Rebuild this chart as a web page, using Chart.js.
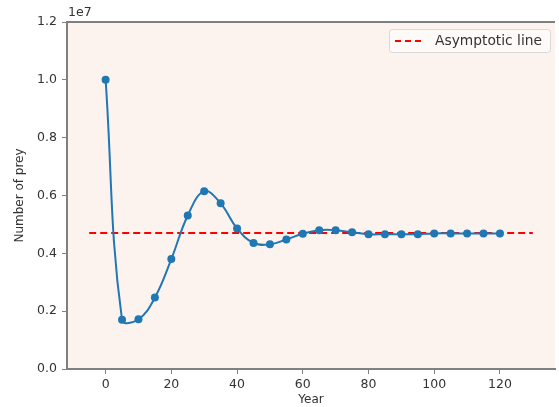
<!DOCTYPE html>
<html>
<head>
<meta charset="utf-8">
<script src="https://cdn.jsdelivr.net/npm/chart.js@4"></script>
<style>
  html, body { margin: 0; padding: 0; background: #fff; }
  #wrap { width: 559px; height: 407px; }
</style>
</head>
<body>
<div id="wrap"><canvas id="c" width="559" height="407"></canvas></div>
<script>
// data
const years = [0, 5, 10, 15, 20, 25, 30, 35, 40, 45, 50, 55, 60, 65, 70, 75, 80, 85, 90, 95, 100, 105, 110, 115, 120];
const prey = [10.0e6, 1.70e6, 1.72e6, 2.47e6, 3.80e6, 5.31e6, 6.15e6, 5.73e6, 4.86e6, 4.36e6, 4.31e6, 4.48e6, 4.68e6, 4.80e6, 4.80e6, 4.73e6, 4.66e6, 4.66e6, 4.66e6, 4.66e6, 4.69e6, 4.69e6, 4.69e6, 4.69e6, 4.69e6];
const asymX = [-5, 130];
const asymY = [4.7e6, 4.7e6];
const xTicks = [0, 20, 40, 60, 80, 100, 120];
const yTicks = [0, 2e6, 4e6, 6e6, 8e6, 10e6, 12e6];

const FONT = 'DejaVu Sans';
const TXT = '#333';
const SPINE = '#808080';

// background of the axes + top spine + offset label + legend
const decor = {
  id: 'decor',
  beforeDraw(chart) {
    const { ctx, chartArea: a } = chart;
    ctx.save();
    ctx.fillStyle = '#fdf3ee';
    ctx.fillRect(a.left, a.top, a.right - a.left, a.bottom - a.top);
    ctx.restore();
  },
  afterDraw(chart) {
    const { ctx, chartArea: a } = chart;
    ctx.save();
    // top spine
    ctx.strokeStyle = SPINE; ctx.lineWidth = 2;
    ctx.beginPath(); ctx.moveTo(a.left - 1, a.top); ctx.lineTo(a.right, a.top); ctx.stroke();
    // offset text
    ctx.fillStyle = TXT; ctx.font = `12.5px "${FONT}"`;
    ctx.textBaseline = 'bottom'; ctx.textAlign = 'left';
    ctx.fillText('1e7', a.left + 1, a.top - 3);
    // legend
    const w = 161, h = 23;
    const lx = a.right - 5 - w, ly = a.top + 7;
    ctx.fillStyle = 'rgba(255,255,255,0.6)';
    ctx.strokeStyle = '#d9d9d9'; ctx.lineWidth = 1;
    ctx.beginPath();
    ctx.roundRect(lx + 0.5, ly + 0.5, w, h, 3);
    ctx.fill(); ctx.stroke();
    ctx.strokeStyle = 'red'; ctx.lineWidth = 2; ctx.setLineDash([6, 4]);
    ctx.beginPath(); ctx.moveTo(lx + 6, ly + 12); ctx.lineTo(lx + 36, ly + 12); ctx.stroke();
    ctx.setLineDash([]);
    ctx.fillStyle = TXT; ctx.font = `13.8px "${FONT}"`;
    ctx.textBaseline = 'middle';
    ctx.fillText('Asymptotic line', lx + 46, ly + 12);
    ctx.restore();
  }
};

new Chart(document.getElementById('c'), {
  type: 'line',
  data: {
    datasets: [
      {
        label: 'Prey',
        data: years.map((x, i) => ({ x, y: prey[i] })),
        borderColor: '#1f77b4',
        backgroundColor: '#1f77b4',
        borderWidth: 2,
        pointRadius: 4,
        pointBorderWidth: 0,
        tension: 0.4,
        order: 0
      },
      {
        label: 'Asymptotic line',
        data: asymX.map((x, i) => ({ x, y: asymY[i] })),
        borderColor: 'red',
        borderWidth: 2,
        borderDash: [7, 4],
        pointRadius: 0,
        order: 1
      }
    ]
  },
  options: {
    responsive: false,
    animation: false,
    layout: { padding: { left: 0, top: 22, right: 0, bottom: 0 } },
    plugins: { legend: { display: false }, tooltip: { enabled: false } },
    scales: {
      x: {
        type: 'linear',
        min: -11.75,
        max: 136.75,
        afterBuildTicks: s => { s.ticks = xTicks.map(v => ({ value: v })); },
        afterFit: s => { s.height = 38; },
        grid: { drawOnChartArea: false, tickLength: 5, color: SPINE, tickWidth: 1 },
        border: { display: true, color: SPINE, width: 2 },
        ticks: { color: TXT, font: { family: FONT, size: 12.5 }, padding: 3, maxRotation: 0 },
        title: { display: true, text: 'Year', color: TXT, font: { family: FONT, size: 12 }, padding: { top: 0, bottom: 0 } }
      },
      y: {
        min: 0,
        max: 12e6,
        afterBuildTicks: s => { s.ticks = yTicks.map(v => ({ value: v })); },
        afterFit: s => { s.width = 67; },
        grid: { drawOnChartArea: false, tickLength: 5, color: SPINE, tickWidth: 1 },
        border: { display: true, color: SPINE, width: 2 },
        ticks: { color: TXT, font: { family: FONT, size: 12.5 }, padding: 5, callback: v => (v / 1e7).toFixed(1) },
        title: { display: true, text: 'Number of prey', color: TXT, font: { family: FONT, size: 12 }, padding: { top: 13, bottom: 0 } }
      }
    }
  },
  plugins: [decor]
});
</script>
</body>
</html>
